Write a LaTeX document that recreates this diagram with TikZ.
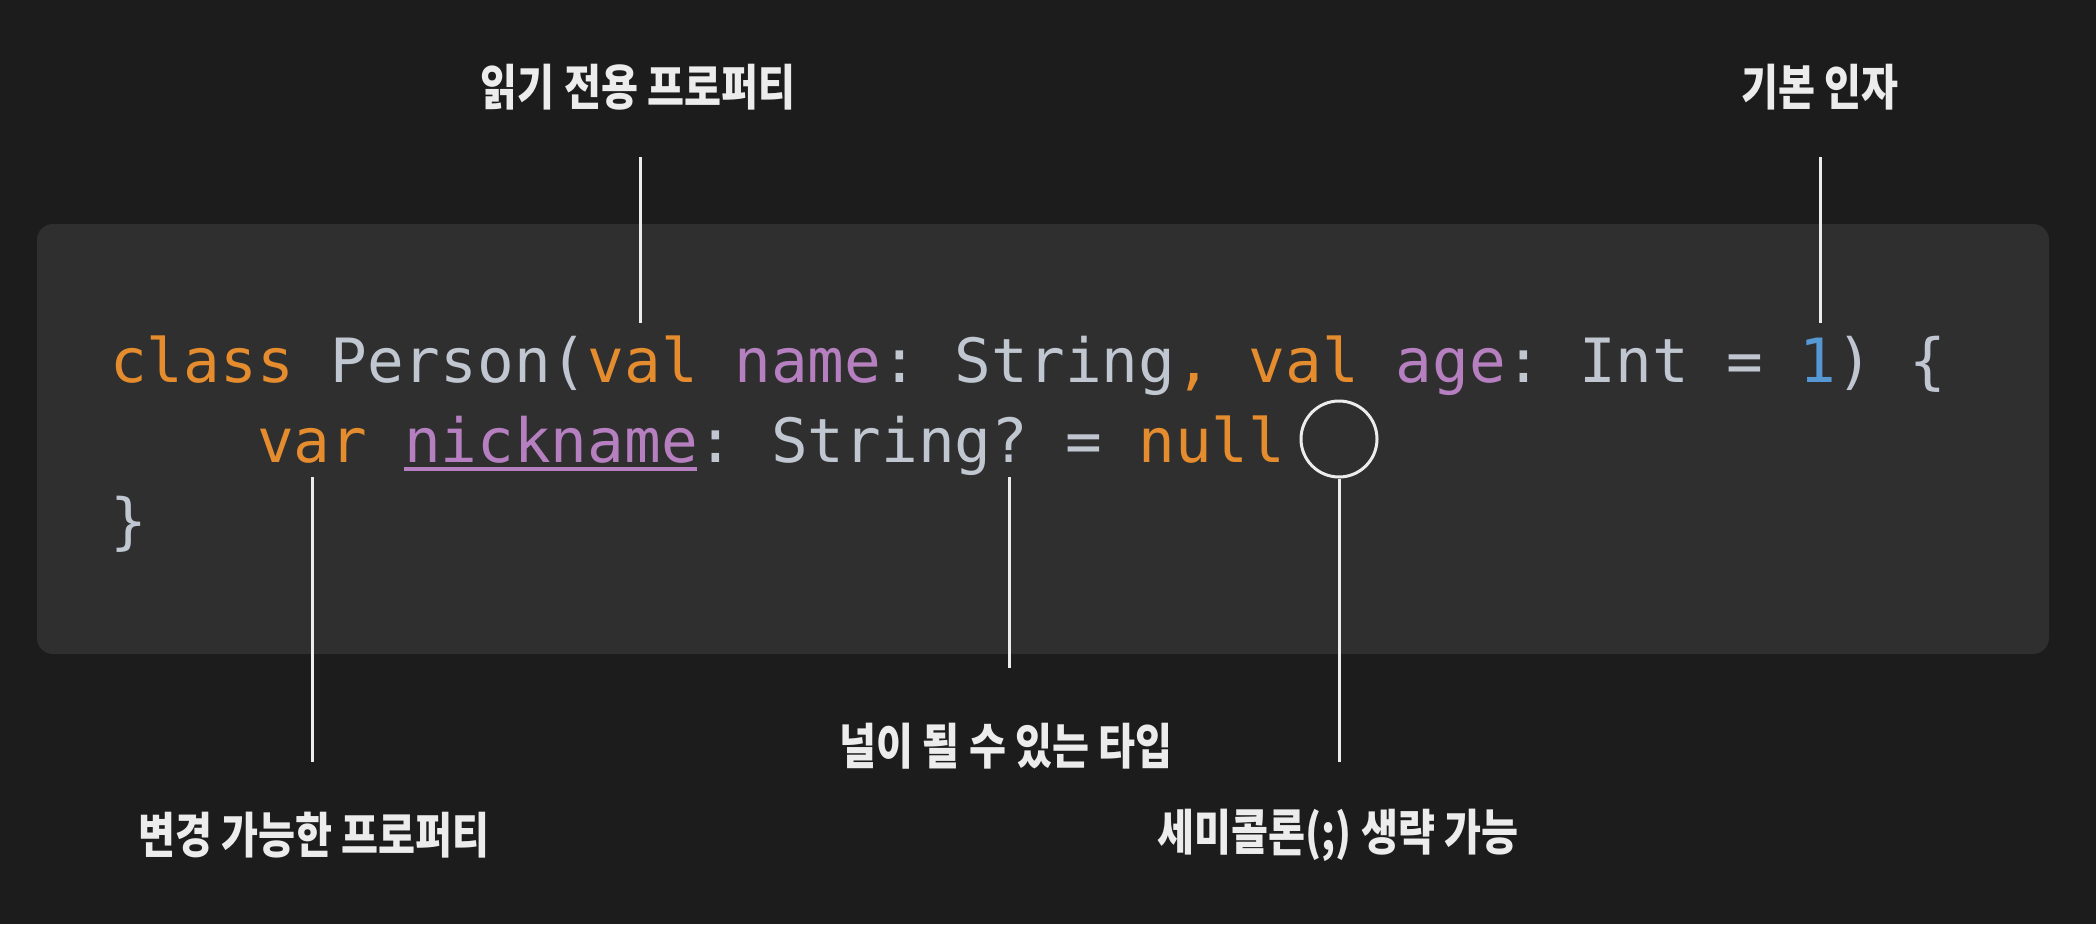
\documentclass[tikz,border=0pt]{standalone}
\usepackage{fontspec}
\newfontfamily\codefont{DejaVu Sans Mono}
\newfontfamily\krfont[FakeStretch=0.82]{Noto Sans CJK KR}
\definecolor{bgc}{RGB}{28,28,28}
\definecolor{boxc}{RGB}{47,47,47}
\definecolor{kw}{RGB}{228,140,46}
\definecolor{pr}{RGB}{182,128,192}
\definecolor{pl}{RGB}{192,199,209}
\definecolor{num}{RGB}{86,152,212}
\definecolor{linec}{RGB}{236,236,236}
\begin{document}
\begin{tikzpicture}[x=1pt,y=-1pt,
  code/.style={font=\codefont\fontsize{61}{73}\selectfont, inner sep=0pt, anchor=base west, text=pl},
  lbl/.style={font=\krfont\bfseries\fontsize{49}{58}\selectfont, inner sep=0pt, text=linec},
  callout/.style={draw=linec, line width=3pt}]
\fill[bgc] (0,0) rectangle (2096,924);
\useasboundingbox (0,0) rectangle (2096,924);
\fill[boxc, rounded corners=16pt] (37,224) rectangle (2049,654);

% code
\node[code] (l1) at (110,382) {\color{kw}class\ \color{pl}Person(\color{kw}val\ \color{pr}name\color{pl}:\ String\color{kw},\ val\ \color{pr}age\color{pl}:\ Int\ =\ \color{num}1\color{pl})\ \{};
\node[code] (l2) at (256.9,462) {\color{kw}var\ \color{pr}nickname\color{pl}:\ String?\ =\ \color{kw}null};
\node[code] (l3) at (110,542) {\}};
\coordinate (ulA) at (404,469);
\coordinate (ulB) at (697,469);
\draw[pr, line width=3.5pt] (ulA) -- (ulB);

% semicolon circle
\node[draw=linec, line width=3pt, circle, minimum size=76pt, inner sep=0pt] (semi) at (1339,439) {};

% labels
\node[lbl] (ro)   at (638,87)  {읽기 전용 프로퍼티};
\node[lbl] (def)  at (1820,87) {기본 인자};
\node[lbl] (mut)  at (314,835) {변경 가능한 프로퍼티};
\node[lbl] (nul)  at (1006,746) {널이 될 수 있는 타입};
\node[lbl] (sc)   at (1338,835) {세미콜론(;) 생략 가능};

% callout lines
\coordinate (roT) at (640,157);  \coordinate (roB) at (640,323);
\coordinate (defT) at (1820,157); \coordinate (defB) at (1820,323);
\coordinate (mutT) at (312,477); \coordinate (mutB) at (312,762);
\coordinate (nulT) at (1009,477); \coordinate (nulB) at (1009,668);
\coordinate (scB) at (1339,762);
\draw[callout] (roT) -- (roB);
\draw[callout] (defT) -- (defB);
\draw[callout] (mutT) -- (mutB);
\draw[callout] (nulT) -- (nulB);
\draw[callout] (semi.south) -- (scB);
\end{tikzpicture}
\end{document}
